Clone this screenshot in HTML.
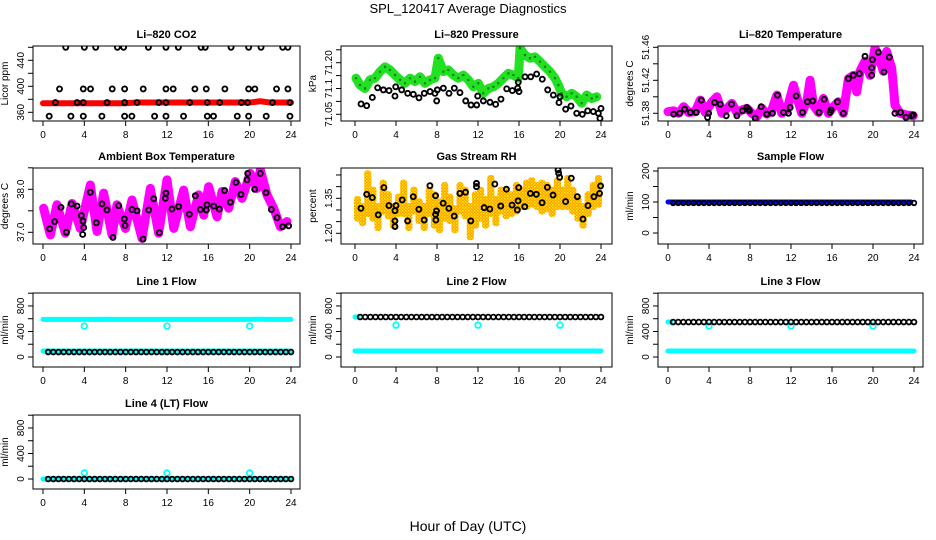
<!DOCTYPE html>
<html><head><meta charset="utf-8">
<style>
html,body{margin:0;padding:0;background:#fff;}
svg{display:block;font-family:"Liberation Sans",sans-serif;}
</style></head>
<body>
<svg id="chart" width="936" height="540" viewBox="0 0 936 540">
<defs>
<pattern id="rhpat" width="3" height="3" patternUnits="userSpaceOnUse">
<rect width="3" height="3" fill="#ff9a00"/><rect x="0" y="0" width="1.5" height="1.5" fill="#ffee00"/><rect x="1.5" y="1.5" width="1.5" height="1.5" fill="#ffd000"/>
</pattern>
</defs>
<text x="468" y="13" text-anchor="middle" font-size="13">SPL_120417  Average Diagnostics</text>
<text x="468" y="531" text-anchor="middle" font-size="14">Hour of Day (UTC)</text>
</svg>
<script>
// ---------- data ----------
const xTicks = [0,4,8,12,16,20,24];
// CO2
const co2TopH = [2.2,4.0,5.1,7.2,7.8,10.2,11.9,13.1,15.3,15.7,18.2,19.9,21.1,23.2,23.7];
const co2MidH = [1.6,3.9,4.6,6.7,7.9,9.7,11.9,12.6,14.7,15.8,17.6,19.9,20.5,22.6,23.7];
const co2LowH = [0.6,2.7,3.9,5.7,7.9,8.6,10.8,11.9,13.6,15.9,16.5,18.8,19.9,21.6,23.9];
const co2BandH = [1.2,3.3,3.9,6.2,7.9,9.1,11.2,11.9,14.2,15.9,17.1,19.2,19.8,22.2,23.9];
const co2Levels = [460,396,354,375];
const co2RedH = [0,1,2,3,4,5,6,7,8,9,10,11,12,13,14,15,16,17,18,19,20,21,22,23,24];
const co2RedV = [374,374,374,374,374,374,374,374,374,375,375,375,375,375,375,375,375,375,375,375,375,377,375,375,375];
// Pressure
const prGreenH = [0.1,0.49,0.98,1.46,1.95,2.44,2.93,3.41,3.9,4.39,4.88,5.37,5.85,6.34,6.83,7.32,7.8,8.13,8.62,9.11,9.59,10.08,10.57,11.06,11.54,12.03,12.52,13.01,13.5,13.98,14.47,14.96,15.45,15.93,16.1,16.59,17.07,17.56,18.05,18.54,19.02,19.51,19.84,20.16,20.65,21.14,21.63,22.11,22.6,23.09,23.58];
const prGreenV = [71.155,71.135,71.125,71.15,71.155,71.174,71.188,71.179,71.164,71.15,71.14,71.155,71.145,71.159,71.14,71.15,71.155,71.213,71.174,71.179,71.164,71.155,71.164,71.15,71.13,71.14,71.111,71.125,71.13,71.14,71.155,71.169,71.164,71.155,71.242,71.222,71.213,71.217,71.203,71.188,71.174,71.155,71.135,71.111,71.101,71.111,71.101,71.082,71.106,71.096,71.101];
const prBlackH = [0.59,1.14,1.69,2.21,2.77,3.32,3.9,3.97,4.55,5.14,5.69,6.24,6.76,7.32,7.8,7.97,8.03,8.62,9.17,9.69,10.24,10.8,11.32,11.87,11.97,12.52,13.17,13.72,14.24,14.8,15.35,15.87,15.93,16.0,16.59,17.14,17.72,18.27,18.8,19.35,19.9,20.0,20.55,21.07,21.63,22.18,22.7,23.25,23.74,23.9,24.0];
const prBlackV = [71.08,71.075,71.099,71.127,71.121,71.119,71.103,71.13,71.121,71.111,71.108,71.098,71.111,71.116,71.111,71.089,71.121,71.126,71.111,71.126,71.113,71.089,71.077,71.077,71.103,71.089,71.085,71.079,71.094,71.124,71.119,71.126,71.143,71.116,71.159,71.159,71.167,71.152,71.121,71.106,71.084,71.101,71.065,71.074,71.053,71.05,71.06,71.058,71.053,71.038,71.067];
// Li-820 temperature
const ltH = [0,0.55,1.04,1.53,2.01,2.66,3.15,3.64,4.29,4.77,5.26,5.75,6.23,6.72,7.21,7.69,8.18,8.67,9.16,9.64,10.13,10.62,11.1,11.59,12.24,12.56,13.05,13.54,13.86,14.19,14.68,15.16,15.65,16.14,16.62,17.11,17.6,18.08,18.41,18.73,19.22,19.71,20.19,20.52,21.0,21.33,21.82,21.98,22.14,22.63,23.28,23.93];
const ltV = [51.382,51.383,51.38,51.388,51.381,51.382,51.396,51.381,51.394,51.4,51.38,51.386,51.392,51.381,51.384,51.386,51.38,51.376,51.386,51.379,51.384,51.402,51.38,51.384,51.414,51.4,51.38,51.394,51.42,51.39,51.381,51.398,51.38,51.388,51.394,51.38,51.422,51.426,51.406,51.431,51.443,51.426,51.459,51.451,51.431,51.455,51.435,51.414,51.39,51.38,51.378,51.377];
const ltBlackH = [0.55,1.14,1.62,2.18,2.76,3.25,3.86,3.96,4.55,5.1,5.68,6.2,6.72,7.27,7.69,7.86,7.95,8.51,9.09,9.64,10.19,10.68,11.27,11.75,11.92,12.5,13.12,13.6,14.12,14.74,15.23,15.81,15.91,16.53,17.11,17.6,18.08,18.67,19.22,19.87,19.87,19.94,20.52,21.07,21.59,22.14,22.69,23.21,23.77,23.93];
const ltBlackV = [51.379,51.38,51.385,51.381,51.381,51.396,51.375,51.38,51.393,51.391,51.377,51.391,51.377,51.383,51.387,51.385,51.383,51.374,51.388,51.379,51.38,51.402,51.381,51.38,51.387,51.401,51.381,51.394,51.395,51.381,51.397,51.381,51.384,51.394,51.38,51.422,51.426,51.428,51.449,51.435,51.426,51.445,51.454,51.43,51.448,51.38,51.381,51.375,51.377,51.378];
// Ambient box temperature
const abH = [0.06,0.71,1.35,2.16,2.81,3.61,4.58,5.23,5.87,6.68,7.16,7.97,8.61,9.58,10.39,11.19,12.0,12.65,13.61,14.26,15.06,15.55,16.03,16.84,17.32,17.97,18.61,19.26,20.06,20.71,21.03,21.68,22.32,22.97,23.61];
const abV = [37.56,36.94,37.64,36.98,37.67,37.09,38.1,37.02,37.91,36.94,37.64,37.09,37.75,36.86,38.02,36.98,38.22,37.09,37.98,37.13,37.87,37.4,38.06,37.36,37.95,37.56,38.18,37.79,38.37,38.02,38.45,37.87,37.56,37.13,37.25];
const abBlackH = [0.65,1.13,1.74,2.26,2.74,3.29,3.71,3.87,3.94,3.84,4.58,5.16,5.71,6.19,6.77,7.32,7.87,7.94,8.61,9.1,9.68,10.23,10.71,11.26,11.84,11.9,12.48,13.13,14.16,14.74,15.23,15.81,15.87,16.52,17.06,17.58,18.13,18.68,19.16,19.74,19.81,20.48,21.03,21.58,22.1,22.65,23.19,23.77];
const abBlackV = [37.08,37.25,37.58,37.0,37.66,37.61,37.39,37.26,37.11,36.95,37.93,37.22,37.66,37.52,36.88,37.62,37.31,37.16,37.53,37.5,36.84,37.52,37.78,36.99,37.79,37.91,37.54,37.6,37.42,37.85,37.53,37.52,37.64,37.61,37.54,37.97,37.7,38.16,37.88,38.22,38.37,38.0,38.37,37.92,37.53,37.34,37.13,37.15];
// Gas stream RH
const rhBinH = [0.25,0.75,1.25,1.75,2.25,2.75,3.25,3.75,4.25,4.75,5.25,5.75,6.25,6.75,7.25,7.75,8.25,8.75,9.25,9.75,10.25,10.75,11.25,11.75,12.25,12.75,13.25,13.75,14.25,14.75,15.25,15.75,16.25,16.75,17.25,17.75,18.25,18.75,19.25,19.75,20.25,20.75,21.25,21.75,22.25,22.75,23.25,23.75];
const rhLow = [1.25,1.23,1.27,1.25,1.21,1.28,1.26,1.22,1.27,1.27,1.21,1.28,1.24,1.21,1.27,1.22,1.2,1.25,1.24,1.2,1.28,1.26,1.17,1.22,1.25,1.22,1.27,1.23,1.28,1.26,1.27,1.28,1.3,1.3,1.31,1.3,1.28,1.29,1.27,1.3,1.3,1.3,1.28,1.25,1.22,1.27,1.3,1.31];
const rhHigh = [1.36,1.33,1.47,1.4,1.33,1.43,1.38,1.33,1.37,1.43,1.33,1.4,1.35,1.33,1.4,1.38,1.35,1.42,1.37,1.32,1.42,1.4,1.33,1.38,1.4,1.36,1.45,1.36,1.4,1.4,1.38,1.42,1.4,1.43,1.44,1.42,1.43,1.42,1.4,1.44,1.4,1.45,1.4,1.36,1.33,1.38,1.42,1.45];
const rhBlackH = [0.58,1.14,1.69,2.27,2.82,3.31,3.9,4.0,3.9,3.9,4.61,5.13,5.68,6.23,6.75,7.31,7.86,7.86,7.95,7.89,8.6,9.16,9.68,10.23,10.78,11.3,11.85,11.85,12.6,13.15,13.64,14.22,14.77,15.32,15.84,15.91,15.97,16.56,17.11,17.69,18.25,18.77,19.32,19.81,19.87,19.97,20.55,21.1,21.69,22.24,22.73,23.31,23.86,23.96];
const rhBlackV = [1.307,1.367,1.353,1.279,1.396,1.319,1.297,1.319,1.253,1.229,1.343,1.253,1.357,1.303,1.257,1.404,1.361,1.281,1.296,1.257,1.329,1.307,1.274,1.371,1.376,1.253,1.414,1.4,1.31,1.304,1.411,1.317,1.389,1.321,1.3,1.339,1.396,1.314,1.371,1.367,1.331,1.397,1.364,1.471,1.457,1.44,1.336,1.436,1.357,1.261,1.319,1.357,1.371,1.403];
// Flows
const hourGrid = [0,1,2,3,4,5,6,7,8,9,10,11,12,13,14,15,16,17,18,19,20,21,22,23,24];
const dotHours = [0.5,1,1.5,2,2.5,3,3.5,4,4.5,5,5.5,6,6.5,7,7.5,8,8.5,9,9.5,10,10.5,11,11.5,12,12.5,13,13.5,14,14.5,15,15.5,16,16.5,17,17.5,18,18.5,19,19.5,20,20.5,21,21.5,22,22.5,23,23.5,24];
const outlierH = [4,12,20];
const sampleBlue = [100,100,100,100,100,100,100,100,100,100,100,100,100,100,100,100,100,100,100,100,100,100,100,100,100];
const sampleBlack = 97;
const line1High = [590,590,590,590,590,590,592,590,590,590,590,590,590,590,590,590,590,590,590,590,590,592,590,590,590];
const line1Low = [94,94,94,94,94,94,94,94,94,94,94,94,94,94,94,94,94,94,94,94,94,94,94,94,94];
const line1Black = 78, line1Out = 485;
const line2Low = [95,95,95,95,95,95,95,95,95,95,95,95,95,95,95,95,95,95,95,95,95,95,95,95,95];
const line2Black = 627, line2Out = 500;
const line3Low = [94,94,94,94,94,94,94,94,94,94,94,94,94,94,94,94,94,94,94,94,94,94,94,94,94];
const line3Black = 548, line3Out = 485;
const line4Low = [0,0,0,0,0,0,0,0,0,0,0,0,0,0,0,0,0,0,0,0,0,0,0,0,0];
const line4Black = 0, line4Out = 94;

// ---------- drawing ----------
const NS = 'http://www.w3.org/2000/svg';
const svg = document.getElementById('chart');
function mk(tag, parent){ const e = document.createElementNS(NS, tag); parent.appendChild(e); return e; }
function set(e, o){ for (const k in o) e.setAttribute(k, o[k]); return e; }

function panel(c){
  const g = mk('g', svg);
  
  
  const sx = h => c.x0 + (c.x24 - c.x0) * h / 24;
  const sy = v => c.pa + (v - c.va) * (c.pb - c.pa) / (c.vb - c.va);
  const t = mk('text', g);
  set(t, {x:(c.L+c.R)/2, y:c.T-8, 'text-anchor':'middle', 'font-size':11, 'font-weight':'bold'});
  t.textContent = c.title;
  
  
  const yl = mk('text', g);
  const ym = (c.T + c.B) / 2;
  set(yl, {x:c.L-25, y:ym, 'text-anchor':'middle', 'font-size':10, transform:`rotate(-90 ${c.L-25} ${ym})`});
  yl.textContent = c.ylab;
  
  
  const xa = mk('g', g);
  
  
  xTicks.forEach(h => {
    const l = mk('line', xa);
    set(l, {x1:sx(h), x2:sx(h), y1:c.B, y2:c.B+5, stroke:'#000', 'stroke-width':1});
    const tx = mk('text', xa);
    set(tx, {x:sx(h), y:c.B+17, 'text-anchor':'middle', 'font-size':10});
    tx.textContent = h;
    
    
  });
  const ya = mk('g', g);
  
  
  c.ticks.forEach(v => {
    const y = sy(v);
    const l = mk('line', ya);
    set(l, {x1:c.L-5, x2:c.L, y1:y, y2:y, stroke:'#000', 'stroke-width':1});
  });
  c.labs.forEach((v, i) => {
    const y = sy(v);
    const tx = mk('text', ya);
    const lx = c.L - 9;
    set(tx, {x:lx, y:y, 'text-anchor':'middle', 'font-size':10, transform:`rotate(-90 ${lx} ${y})`});
    tx.textContent = c.labText ? c.labText[i] : v;
    
    
  });
  const cp = mk('clipPath', g);
  cp.setAttribute('id', 'clip-' + c.name);
  set(mk('rect', cp), {x:c.L, y:c.T, width:c.R-c.L, height:c.B-c.T});
  const plot = mk('g', g);
  plot.setAttribute('clip-path', `url(#clip-${c.name})`);
  
  
  c.draw(plot, sx, sy);
  const b = mk('rect', g);
  set(b, {x:c.L, y:c.T, width:c.R-c.L, height:c.B-c.T, fill:'none', stroke:'#000', 'stroke-width':1});
  
  
}

function band(p, sx, sy, hs, vs, color, w, name){
  const pl = mk('polyline', p);
  set(pl, {points: hs.map((h,i)=>sx(h)+','+sy(vs[i])).join(' '), fill:'none', stroke:color, 'stroke-width':w, 'stroke-linejoin':'round', 'stroke-linecap':'round'});
  
  
}
function dots(p, sx, sy, hs, vs, color, r, sw, name){
  hs.forEach((h,i) => {
    const v = Array.isArray(vs) ? vs[i] : vs;
    const ci = mk('circle', p);
    set(ci, {cx:sx(h), cy:sy(v), r:r, fill:'none', stroke:color, 'stroke-width':sw});
    
    
  });
}

const C1 = {L:33, R:300, x0:43, x24:291};
const C2 = {L:341, R:612, x0:355, x24:601};
const C3 = {L:658, R:923, x0:668, x24:914};
const R1 = {T:46, B:121}, R2 = {T:168, B:244}, R3 = {T:293, B:367}, R4 = {T:415, B:489};

panel(Object.assign({name:'co2-panel', title:'Li–820 CO2', ylab:'Licor ppm', va:360, pa:112.3, vb:460, pb:47.3, ticks:[360,380,400,420,440,460], labs:[360,400,440],
  draw:(p,sx,sy)=>{
    band(p,sx,sy,co2RedH,co2RedV,'#ff0000',6,'co2-red-series');
    dots(p,sx,sy,co2TopH,co2Levels[0],'#000',2.5,1.9,'co2-point');
    dots(p,sx,sy,co2MidH,co2Levels[1],'#000',2.5,1.9,'co2-point');
    dots(p,sx,sy,co2LowH,co2Levels[2],'#000',2.5,1.9,'co2-point');
    dots(p,sx,sy,co2BandH,co2Levels[3],'#000',2.5,1.9,'co2-point');
  }}, C1, R1));

panel(Object.assign({name:'pressure-panel', title:'Li–820 Pressure', ylab:'kPa', va:71.05, pa:114.3, vb:71.20, pb:62.7, ticks:[71.05,71.0875,71.125,71.1625,71.20,71.2375], labs:[71.05,71.125,71.20], labText:['71.05','71.1','71.20'],
  draw:(p,sx,sy)=>{
    band(p,sx,sy,prGreenH,prGreenV,'#22e022',9,'pressure-green-series');
    dots(p,sx,sy,prGreenH,prGreenV,'#0a6a0a',0.8,0.8,'pressure-green-speckle');
    dots(p,sx,sy,prBlackH,prBlackV,'#000',2.5,1.9,'pressure-point');
  }}, C2, R1));

panel(Object.assign({name:'li820-temp-panel', title:'Li–820 Temperature', ylab:'degrees C', va:51.38, pa:113.3, vb:51.46, pb:47.3, ticks:[51.38,51.40,51.42,51.44,51.46], labs:[51.38,51.42,51.46], labText:['51.38','51.42','51.46'],
  draw:(p,sx,sy)=>{
    band(p,sx,sy,ltH,ltV,'#ff00ff',9,'li820-temp-series');
    dots(p,sx,sy,ltBlackH,ltBlackV,'#000',2.5,1.9,'li820-temp-point');
  }}, C3, R1));

panel(Object.assign({name:'ambient-panel', title:'Ambient Box Temperature', ylab:'degrees C', va:37.0, pa:232.3, vb:38.0, pb:189.3, ticks:[37.0,37.5,38.0,38.5], labs:[37.0,38.0], labText:['37.0','38.0'],
  draw:(p,sx,sy)=>{
    band(p,sx,sy,abH,abV,'#ff00ff',9,'ambient-series');
    dots(p,sx,sy,abBlackH,abBlackV,'#000',2.5,1.9,'ambient-point');
  }}, C1, R2));

panel(Object.assign({name:'rh-panel', title:'Gas Stream RH', ylab:'percent', va:1.20, pa:233.3, vb:1.35, pb:198.3, ticks:[1.20,1.25,1.30,1.35,1.40,1.45], labs:[1.20,1.35], labText:['1.20','1.35'],
  draw:(p,sx,sy)=>{
    const w = sx(0.5) - sx(0);
    rhBinH.forEach((h,i)=>{
      const r = mk('rect', p);
      set(r, {x:sx(h)-w/2-1, y:sy(rhHigh[i]), width:w+2, height:sy(rhLow[i])-sy(rhHigh[i]), rx:3, fill:'url(#rhpat)'});
      
      
    });
    dots(p,sx,sy,rhBlackH,rhBlackV,'#000',2.5,1.9,'rh-point');
  }}, C2, R2));

panel(Object.assign({name:'sample-flow-panel', title:'Sample Flow', ylab:'ml/min', va:0, pa:233, vb:200, pb:171, ticks:[0,50,100,150,200], labs:[0,100,200],
  draw:(p,sx,sy)=>{
    band(p,sx,sy,hourGrid.slice(0,24).concat([23.7]),sampleBlue,'#0000ff',5,'sample-flow-series');
    dots(p,sx,sy,dotHours,sampleBlack,'#000',2.3,1.8,'sample-flow-point');
  }}, C3, R2));

function flowPanel(name, title, col, row, high, low, black, out){
  const pa = row.B - 10, pb = pa - 800*0.0638;
  panel(Object.assign({name:name, title:title, ylab:'ml/min', va:0, pa:pa, vb:800, pb:pb, ticks:[0,200,400,600,800,1000], labs:[0,400,800],
    draw:(p,sx,sy)=>{
      band(p,sx,sy,hourGrid,low,'#00ffff',5,'cyan-low-series');
      if (high) band(p,sx,sy,hourGrid,high,'#00ffff',5,'cyan-high-series');
      else band(p,sx,sy,[0,0.3],[black,black],'#00ffff',5,'cyan-high-series');
      dots(p,sx,sy,outlierH,out,'#00ffff',2.8,1.8,'cyan-outlier');
      dots(p,sx,sy,dotHours,black,'#000',2.4,1.8,'black-flow-point');
    }}, col, row));
}
flowPanel('line1-flow-panel','Line 1 Flow',C1,R3,line1High,line1Low,line1Black,line1Out);
flowPanel('line2-flow-panel','Line 2 Flow',C2,R3,null,line2Low,line2Black,line2Out);
flowPanel('line3-flow-panel','Line 3 Flow',C3,R3,null,line3Low,line3Black,line3Out);
flowPanel('line4-flow-panel','Line 4 (LT) Flow',C1,R4,null,line4Low,line4Black,line4Out);
</script>
</body></html>
